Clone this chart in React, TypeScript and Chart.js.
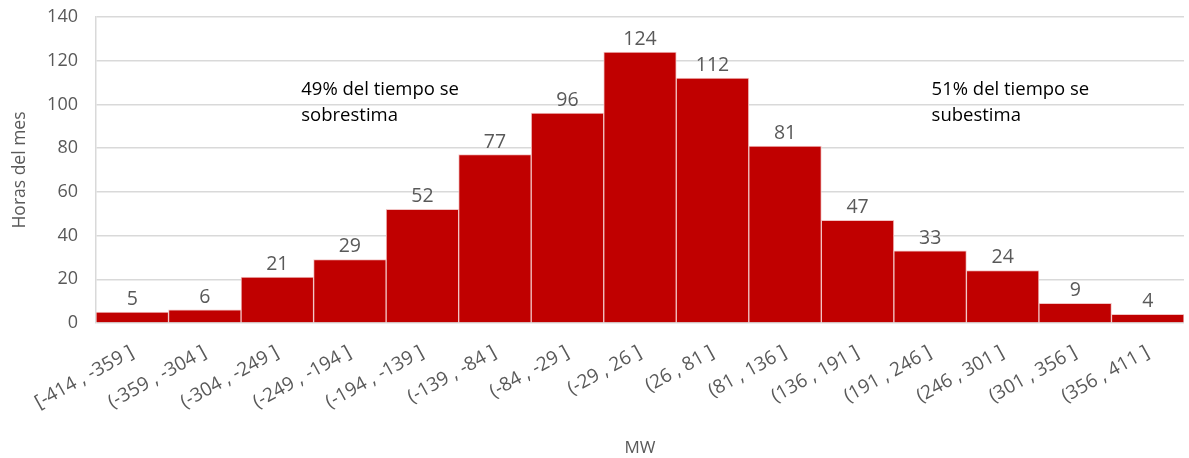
import React, { useEffect, useRef } from "react";
import { Chart, registerables } from "chart.js";

Chart.register(...registerables);

const categories = [
  "[-414 , -359 ]",
  "(-359 , -304 ]",
  "(-304 , -249 ]",
  "(-249 , -194 ]",
  "(-194 , -139 ]",
  "(-139 , -84 ]",
  "(-84 , -29 ]",
  "(-29 , 26 ]",
  "(26 , 81 ]",
  "(81 , 136 ]",
  "(136 , 191 ]",
  "(191 , 246 ]",
  "(246 , 301 ]",
  "(301 , 356 ]",
  "(356 , 411 ]",
];
const hours = [5, 6, 21, 29, 52, 77, 96, 124, 112, 81, 47, 33, 24, 9, 4];
const yTicks = [0, 20, 40, 60, 80, 100, 120, 140];
const notes = [
  { lines: ["49% del tiempo se", "sobrestima"], xIndex: 2.33, yValue: 106.5 },
  { lines: ["51% del tiempo se", "subestima"], xIndex: 11.02, yValue: 106.5 },
];

const FONT = "'Open Sans', sans-serif";

const labelPlugin = {
  id: "labelsAndNotes",
  afterDatasetsDraw(chart: any) {
    const ctx = chart.ctx;
    const meta = chart.getDatasetMeta(0);
    ctx.save();
    ctx.fillStyle = "#595959";
    ctx.font = `19.5px ${FONT}`;
    ctx.textAlign = "center";
    ctx.textBaseline = "bottom";
    meta.data.forEach((bar: any, i: number) => {
      ctx.fillText(String(hours[i]), bar.x, bar.y - 3);
    });
    const xs = chart.scales.x;
    const ys = chart.scales.y;
    ctx.fillStyle = "#000000";
    ctx.font = `18.5px ${FONT}`;
    ctx.textAlign = "left";
    ctx.textBaseline = "middle";
    notes.forEach((n) => {
      const x = xs.getPixelForValue(n.xIndex);
      const y = ys.getPixelForValue(n.yValue);
      n.lines.forEach((l, k) => ctx.fillText(l, x, y + k * 26));
    });
    ctx.restore();
  },
};

export default function App() {
  const ref = useRef<HTMLCanvasElement>(null);
  useEffect(() => {
    document.body.style.margin = "0";
    const chart = new Chart(ref.current!, {
      type: "bar",
      data: {
        labels: categories,
        datasets: [
          {
            data: hours,
            backgroundColor: "#C00000",
            borderColor: "#F2C4C4",
            borderWidth: 1,
            barPercentage: 1,
            categoryPercentage: 1,
          },
        ],
      },
      options: {
        animation: false,
        responsive: false,
        maintainAspectRatio: false,
        layout: { padding: { top: 17, right: 5, left: 0, bottom: 0 } },
        plugins: { legend: { display: false }, tooltip: { enabled: false } },
        scales: {
          x: {
            grid: { display: false },
            border: { display: false },
            ticks: {
              color: "#595959",
              font: { family: FONT, size: 19 },
              minRotation: 29,
              maxRotation: 29,
              autoSkip: false,
              padding: 10,
            },
            title: {
              display: true,
              text: "MW",
              color: "#595959",
              font: { family: FONT, size: 17 },
              padding: { top: 0, bottom: 0 },
            },
            afterFit: (s: any) => {
              s.height = 135;
            },
          },
          y: {
            min: 0,
            max: 140,
            afterBuildTicks: (s: any) => {
              s.ticks = yTicks.map((v) => ({ value: v }));
            },
            grid: { color: "#D9D9D9", lineWidth: 1.5, drawTicks: false },
            border: { display: true, color: "#D9D9D9", width: 1.5 },
            ticks: {
              color: "#595959",
              font: { family: FONT, size: 18 },
              padding: 18,
            },
            title: {
              display: true,
              text: "Horas del mes",
              color: "#595959",
              font: { family: FONT, size: 17.5 },
              padding: { top: 10, bottom: 0 },
            },
            afterFit: (s: any) => {
              s.width = 96;
              s.paddingTop = 0;
              s.paddingBottom = 0;
            },
          },
        },
      },
      plugins: [labelPlugin],
    });
    return () => chart.destroy();
  }, []);
  return (
    <div style={{ width: 1189, height: 458 }}>
      <canvas ref={ref} width={1189} height={458} style={{ width: 1189, height: 458 }} />
    </div>
  );
}
